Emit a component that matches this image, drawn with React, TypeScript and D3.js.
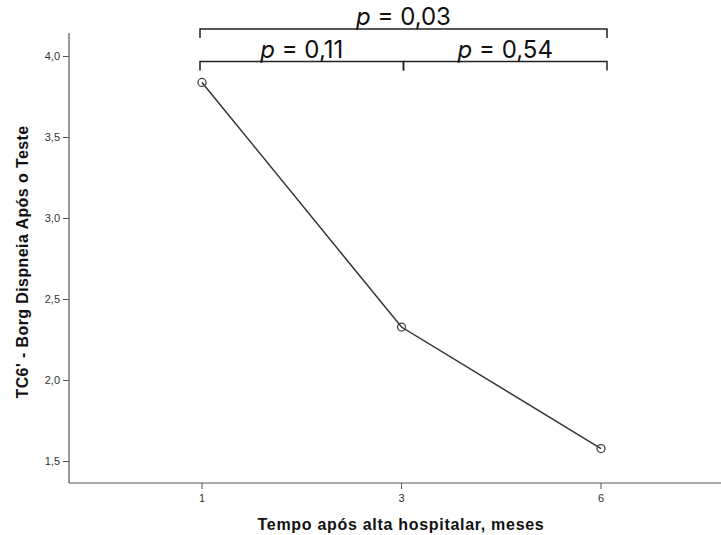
import React from 'react';
import * as d3 from 'd3';

const categories = ['1', '3', '6'];
const values = [3.84, 2.33, 1.58];
const yTicks = [1.5, 2.0, 2.5, 3.0, 3.5, 4.0];
const comparisons = [
  { from: '1', to: '6', p: '0,03', level: 2 },
  { from: '1', to: '3', p: '0,11', level: 1 },
  { from: '3', to: '6', p: '0,54', level: 1 },
];
const xTitle = 'Tempo após alta hospitalar, meses';
const yTitle = "TC6' - Borg Dispneia Após o Teste";

const W = 721;
const H = 535;
const axisLeft = 69;
const axisBottom = 483;
const axisTop = 33;
const axisRight = 721;

export default function App() {
  const x = d3.scalePoint<string>().domain(categories).range([202, 601]);
  const xb = d3.scalePoint<string>().domain(categories).range([200, 607]);
  const y = d3.scaleLinear().domain([1.5, 4.0]).range([461.5, 56.5]);
  const line = d3
    .line<number>()
    .x((_, i) => x(categories[i]) as number)
    .y((d) => y(d));
  const fmt = (v: number) => d3.format('.1f')(v).replace('.', ',');
  const levelY = (l: number) => (l === 2 ? 29 : 61.5);
  const axisColor = '#555';
  return (
    <svg width={W} height={H} style={{ position: 'absolute', left: 0, top: 0, background: '#fff' }}>
      <rect width={W} height={H} fill="#fff" />
      {/* axes */}
      <line x1={axisLeft} x2={axisLeft} y1={axisTop} y2={axisBottom} stroke={axisColor} strokeWidth={1.2} />
      <line x1={axisLeft} x2={axisRight} y1={axisBottom} y2={axisBottom} stroke={axisColor} strokeWidth={1.2} />
      {yTicks.map((t) => (
        <g key={t}>
          <line x1={axisLeft - 6} x2={axisLeft} y1={y(t)} y2={y(t)} stroke={axisColor} strokeWidth={1} />
          <text
            x={axisLeft - 9}
            y={y(t)}
            dy="0.35em"
            textAnchor="end"
            fontFamily="Liberation Sans, Arial, sans-serif"
            fontSize={11}
            fill="#333"
          >
            {fmt(t)}
          </text>
        </g>
      ))}
      {categories.map((c) => (
        <g key={c}>
          <line x1={x(c)} x2={x(c)} y1={axisBottom} y2={axisBottom + 6} stroke={axisColor} strokeWidth={1} />
          <text
            x={x(c)}
            y={axisBottom + 19}
            textAnchor="middle"
            fontFamily="Liberation Sans, Arial, sans-serif"
            fontSize={11}
            fill="#333"
          >
            {c}
          </text>
        </g>
      ))}
      <text
        x={401}
        y={530}
        textAnchor="middle"
        fontFamily="Liberation Sans, Arial, sans-serif"
        fontWeight="bold"
        fontSize={16}
        letterSpacing={0.7}
        fill="#111"
      >
        {xTitle}
      </text>
      <text
        transform={`translate(28, ${262}) rotate(-90)`}
        textAnchor="middle"
        fontFamily="Liberation Sans, Arial, sans-serif"
        fontWeight="bold"
        fontSize={16}
        letterSpacing={0.4}
        fill="#111"
      >
        {yTitle}
      </text>
      {/* series */}
      <path d={line(values) || ''} fill="none" stroke="#333" strokeWidth={1.5} />
      {values.map((v, i) => (
        <circle key={i} cx={x(categories[i])} cy={y(v)} r={4} fill="#fff" fillOpacity={0} stroke="#444" strokeWidth={1.3} />
      ))}
      {/* brackets */}
      {comparisons.map((c, i) => {
        const x1 = xb(c.from) as number;
        const x2 = xb(c.to) as number;
        const by = levelY(c.level);
        return (
          <g key={i}>
            <path d={`M${x1},${by + 9}V${by}H${x2}V${by + 9}`} fill="none" stroke="#222" strokeWidth={1.5} />
            <text
              x={(x1 + x2) / 2}
              y={by - 4}
              textAnchor="middle"
              fontFamily="Inter, Roboto, sans-serif"
              fontSize={24}
              fill="#111"
            >
              <tspan fontStyle="italic">p</tspan>
              {' = ' + c.p}
            </text>
          </g>
        );
      })}
    </svg>
  );
}
